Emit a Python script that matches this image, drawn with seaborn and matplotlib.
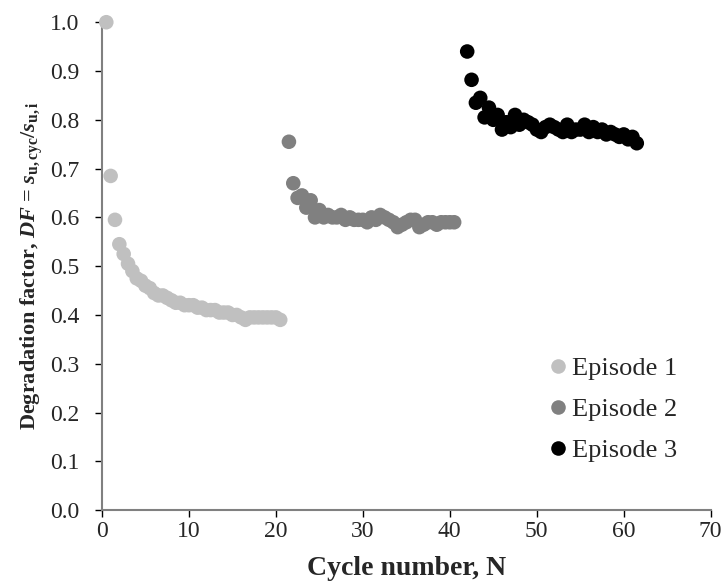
import matplotlib
matplotlib.use("Agg")
import matplotlib.pyplot as plt
import seaborn as sns
import pandas as pd

ep1_x = [0.5, 1.0, 1.5, 2.0, 2.5, 3.0, 3.5, 4.0, 4.5, 5.0, 5.5, 6.0, 6.5, 7.0, 7.5, 8.0,
         8.5, 9.0, 9.5, 10.0, 10.5, 11.0, 11.5, 12.0, 12.5, 13.0, 13.5, 14.0, 14.5, 15.0,
         15.5, 16.0, 16.5, 17.0, 17.5, 18.0, 18.5, 19.0, 19.5, 20.0, 20.5]
ep1_y = [1.00, 0.685, 0.595, 0.545, 0.525, 0.505, 0.49, 0.475, 0.47, 0.46, 0.455, 0.445,
         0.44, 0.44, 0.435, 0.43, 0.425, 0.425, 0.42, 0.42, 0.42, 0.415, 0.415, 0.41, 0.41,
         0.41, 0.405, 0.405, 0.405, 0.40, 0.40, 0.395, 0.39, 0.395, 0.395, 0.395, 0.395,
         0.395, 0.395, 0.395, 0.39]

ep2_x = [21.5, 22.0, 22.5, 23.0, 23.5, 24.0, 24.5, 25.0, 25.5, 26.0, 26.5, 27.0, 27.5,
         28.0, 28.5, 29.0, 29.5, 30.0, 30.5, 31.0, 31.5, 32.0, 32.5, 33.0, 33.5, 34.0,
         34.5, 35.0, 35.5, 36.0, 36.5, 37.0, 37.5, 38.0, 38.5, 39.0, 39.5, 40.0, 40.5]
ep2_y = [0.755, 0.67, 0.64, 0.645, 0.62, 0.635, 0.60, 0.615, 0.60, 0.605, 0.60, 0.60,
         0.605, 0.595, 0.60, 0.595, 0.595, 0.595, 0.59, 0.60, 0.595, 0.605, 0.60, 0.595,
         0.59, 0.58, 0.585, 0.59, 0.595, 0.595, 0.58, 0.585, 0.59, 0.59, 0.585, 0.59,
         0.59, 0.59, 0.59]

ep3_x = [42.0, 42.5, 43.0, 43.5, 44.0, 44.5, 45.0, 45.5, 46.0, 46.5, 47.0, 47.5, 48.0,
         48.5, 49.0, 49.5, 50.0, 50.5, 51.0, 51.5, 52.0, 52.5, 53.0, 53.5, 54.0, 54.5,
         55.0, 55.5, 56.0, 56.5, 57.0, 57.5, 58.0, 58.5, 59.0, 59.5, 60.0, 60.5, 61.0, 61.5]
ep3_y = [0.94, 0.882, 0.835, 0.845, 0.805, 0.825, 0.80, 0.81, 0.78, 0.795, 0.785, 0.81,
         0.79, 0.80, 0.795, 0.79, 0.78, 0.775, 0.785, 0.79, 0.785, 0.78, 0.775, 0.79,
         0.775, 0.78, 0.78, 0.79, 0.775, 0.785, 0.775, 0.78, 0.77, 0.775, 0.77, 0.765,
         0.77, 0.76, 0.765, 0.752]

labels = ["Episode 1", "Episode 2", "Episode 3"]
colors = ["#c0c0c0", "#808080", "#000000"]
x_ticks = [0, 10, 20, 30, 40, 50, 60, 70]
y_ticks = [0.0, 0.1, 0.2, 0.3, 0.4, 0.5, 0.6, 0.7, 0.8, 0.9, 1.0]

df = pd.concat([
    pd.DataFrame({"N": ep1_x, "DF": ep1_y, "ep": labels[0]}),
    pd.DataFrame({"N": ep2_x, "DF": ep2_y, "ep": labels[1]}),
    pd.DataFrame({"N": ep3_x, "DF": ep3_y, "ep": labels[2]}),
])

sns.set_style("white")
plt.rcParams["font.family"] = ["Liberation Serif", "DejaVu Serif"]
plt.rcParams["mathtext.fontset"] = "custom"
plt.rcParams["mathtext.rm"] = "Liberation Serif:bold"
plt.rcParams["mathtext.it"] = "Liberation Serif:italic:bold"
plt.rcParams["mathtext.bf"] = "Liberation Serif:bold"

fig = plt.figure(figsize=(7.23, 5.85), dpi=100)
ax = fig.add_axes([0.141, 0.128, 0.842, 0.834])

sns.scatterplot(data=df, x="N", y="DF", hue="ep", palette=colors, s=110,
                linewidth=0, ax=ax, legend=True, clip_on=False, zorder=3)

ax.set_xlim(0, 70)
ax.set_ylim(0, 1.0)
ax.set_xticks(x_ticks)
ax.set_xticklabels([str(t) for t in x_ticks])
ax.set_yticks(y_ticks)
ax.set_yticklabels([f"{t:.1f}" for t in y_ticks])
ax.tick_params(axis="both", labelsize=17, length=5, width=1, color="black",
               direction="out", left=True, bottom=True)
ax.tick_params(axis="y", pad=11)
ax.tick_params(axis="x", pad=3)
for s in ["top", "right"]:
    ax.spines[s].set_visible(False)
for s in ["left", "bottom"]:
    ax.spines[s].set_color("#808080")
    ax.spines[s].set_linewidth(1.5)

ax.set_xlabel("Cycle number, N", fontsize=20, fontweight="bold", labelpad=10)
ax.set_ylabel(r"Degradation factor, $DF$ = $s_{\mathbf{u,cyc}}/s_{\mathbf{u,i}}$",
              fontsize=16, fontweight="bold", labelpad=4)

leg = ax.legend(loc="lower right", bbox_to_anchor=(0.966, 0.071), frameon=False,
                fontsize=19, handletextpad=0.2, handlelength=0.6, borderpad=0,
                labelspacing=0.67, markerscale=1.0)

fig.savefig("out.png", dpi=100)
